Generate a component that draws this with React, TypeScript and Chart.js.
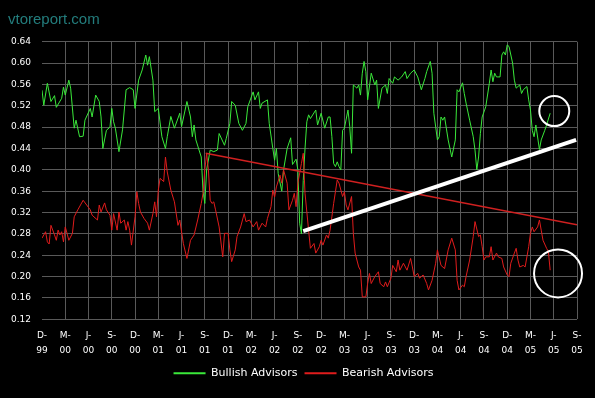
import { useEffect, useRef } from "react";
import { Chart, registerables } from "chart.js";

Chart.register(...registerables);

// Quarter tick labels (Dec 1999 .. Sep 2005)
const quarterMonths = ["D-", "M-", "J-", "S-", "D-", "M-", "J-", "S-", "D-", "M-", "J-", "S-", "D-", "M-", "J-", "S-", "D-", "M-", "J-", "S-", "D-", "M-", "J-", "S-"];
const quarterYears = ["99", "00", "00", "00", "00", "01", "01", "01", "01", "02", "02", "02", "02", "03", "03", "03", "03", "04", "04", "04", "04", "05", "05", "05"];
const weeksPerQuarter = 13;

// Bullish advisors: week number since Dec 1999, value
const bullWeeks = [0, 1, 3, 5, 7, 8, 11, 12, 13, 15, 16, 18, 19, 21, 23, 24, 27, 28, 30, 32, 33, 34, 36, 38, 39, 40, 41, 43, 45, 47, 49, 51, 52, 54, 56, 58, 59, 60, 62, 63, 65, 67, 69, 70, 72, 74, 77, 78, 81, 83, 84, 85, 86, 89, 90, 91, 92, 94, 96, 98, 99, 102, 103, 105, 106, 108, 110, 112, 114, 115, 118, 119, 121, 122, 123, 126, 127, 129, 130, 131, 132, 134, 135, 137, 139, 140, 142, 143, 144, 145, 146, 147, 148, 149, 150, 153, 154, 156, 158, 160, 161, 162, 163, 164, 165, 166, 167, 168, 169, 171, 172, 173, 174, 176, 177, 178, 179, 180, 181, 182, 184, 186, 187, 188, 190, 192, 193, 194, 196, 197, 199, 201, 203, 204, 206, 208, 210, 212, 214, 215, 217, 218, 219, 221, 222, 223, 224, 225, 227, 229, 231, 232, 233, 235, 236, 237, 239, 241, 242, 243, 244, 245, 246, 248, 250, 251, 252, 253, 254, 256, 257, 258, 259, 260, 261, 263, 264, 265, 267, 268, 269, 271, 272, 273, 274, 275, 276, 278, 279, 281, 282, 284];
const bullValues = [0.549, 0.521, 0.562, 0.528, 0.539, 0.517, 0.534, 0.555, 0.54, 0.568, 0.553, 0.478, 0.493, 0.462, 0.463, 0.493, 0.515, 0.499, 0.54, 0.528, 0.499, 0.44, 0.474, 0.48, 0.515, 0.49, 0.478, 0.434, 0.475, 0.55, 0.554, 0.55, 0.515, 0.568, 0.587, 0.615, 0.596, 0.612, 0.568, 0.509, 0.515, 0.462, 0.44, 0.462, 0.5, 0.478, 0.506, 0.481, 0.528, 0.499, 0.462, 0.484, 0.456, 0.424, 0.36, 0.337, 0.4, 0.437, 0.434, 0.437, 0.468, 0.446, 0.459, 0.487, 0.528, 0.521, 0.487, 0.474, 0.487, 0.518, 0.546, 0.531, 0.546, 0.515, 0.525, 0.531, 0.487, 0.44, 0.418, 0.44, 0.393, 0.36, 0.4, 0.44, 0.46, 0.41, 0.42, 0.4, 0.3, 0.28, 0.38, 0.44, 0.49, 0.503, 0.496, 0.512, 0.484, 0.506, 0.478, 0.499, 0.499, 0.462, 0.412, 0.406, 0.415, 0.406, 0.4, 0.474, 0.478, 0.512, 0.481, 0.431, 0.559, 0.553, 0.559, 0.54, 0.581, 0.603, 0.584, 0.531, 0.581, 0.559, 0.568, 0.515, 0.553, 0.559, 0.543, 0.571, 0.562, 0.574, 0.568, 0.574, 0.584, 0.571, 0.581, 0.587, 0.574, 0.55, 0.571, 0.584, 0.603, 0.581, 0.506, 0.456, 0.462, 0.499, 0.493, 0.499, 0.456, 0.424, 0.456, 0.55, 0.546, 0.563, 0.543, 0.525, 0.493, 0.462, 0.437, 0.4, 0.424, 0.468, 0.499, 0.518, 0.562, 0.587, 0.565, 0.581, 0.574, 0.574, 0.615, 0.621, 0.615, 0.634, 0.631, 0.6, 0.568, 0.553, 0.559, 0.543, 0.55, 0.556, 0.531, 0.512, 0.474, 0.462, 0.484, 0.438, 0.456, 0.474, 0.484, 0.506];

// Bearish advisors
const bearWeeks = [0, 2, 3, 4, 5, 7, 8, 9, 10, 11, 12, 13, 14, 15, 17, 18, 20, 23, 25, 27, 28, 31, 32, 33, 35, 36, 38, 39, 40, 42, 43, 44, 46, 47, 48, 49, 50, 52, 53, 54, 55, 57, 59, 60, 62, 63, 64, 65, 66, 68, 69, 70, 72, 74, 76, 77, 79, 81, 83, 85, 87, 89, 90, 91, 92, 93, 94, 95, 96, 97, 99, 101, 102, 104, 105, 106, 108, 109, 111, 113, 114, 116, 118, 120, 121, 123, 125, 126, 128, 129, 130, 131, 133, 134, 135, 137, 138, 140, 141, 142, 143, 145, 146, 147, 149, 150, 152, 153, 155, 156, 157, 159, 160, 161, 162, 163, 165, 166, 168, 169, 170, 171, 173, 174, 175, 177, 178, 179, 181, 182, 183, 184, 186, 188, 189, 191, 192, 193, 195, 196, 198, 199, 200, 202, 204, 206, 207, 208, 210, 211, 213, 215, 216, 218, 220, 221, 223, 225, 227, 229, 231, 232, 233, 235, 236, 237, 239, 241, 242, 244, 245, 246, 247, 248, 250, 251, 252, 254, 255, 257, 258, 260, 261, 262, 264, 265, 266, 267, 269, 270, 272, 273, 274, 275, 277, 278, 279, 280, 282, 283, 284];
const bearValues = [0.272, 0.284, 0.265, 0.261, 0.296, 0.278, 0.268, 0.287, 0.278, 0.284, 0.265, 0.293, 0.281, 0.268, 0.281, 0.312, 0.325, 0.343, 0.334, 0.325, 0.315, 0.306, 0.334, 0.321, 0.338, 0.325, 0.315, 0.287, 0.318, 0.287, 0.321, 0.3, 0.306, 0.287, 0.303, 0.287, 0.259, 0.312, 0.359, 0.337, 0.321, 0.309, 0.3, 0.287, 0.318, 0.34, 0.312, 0.362, 0.384, 0.378, 0.424, 0.396, 0.362, 0.34, 0.296, 0.306, 0.262, 0.234, 0.268, 0.278, 0.306, 0.337, 0.356, 0.4, 0.431, 0.4, 0.343, 0.337, 0.34, 0.325, 0.293, 0.237, 0.281, 0.281, 0.25, 0.228, 0.25, 0.275, 0.293, 0.318, 0.303, 0.306, 0.293, 0.303, 0.287, 0.3, 0.293, 0.309, 0.331, 0.362, 0.349, 0.368, 0.39, 0.375, 0.4, 0.375, 0.325, 0.343, 0.356, 0.331, 0.375, 0.412, 0.431, 0.356, 0.287, 0.253, 0.262, 0.244, 0.256, 0.268, 0.259, 0.278, 0.272, 0.287, 0.312, 0.337, 0.381, 0.375, 0.35, 0.359, 0.334, 0.325, 0.35, 0.281, 0.244, 0.218, 0.212, 0.162, 0.162, 0.187, 0.206, 0.187, 0.2, 0.209, 0.187, 0.181, 0.19, 0.181, 0.197, 0.221, 0.209, 0.231, 0.212, 0.225, 0.212, 0.234, 0.218, 0.2, 0.206, 0.197, 0.203, 0.187, 0.175, 0.193, 0.225, 0.25, 0.221, 0.215, 0.25, 0.272, 0.25, 0.193, 0.175, 0.184, 0.181, 0.2, 0.231, 0.275, 0.303, 0.275, 0.278, 0.256, 0.231, 0.237, 0.237, 0.256, 0.231, 0.244, 0.237, 0.234, 0.218, 0.203, 0.2, 0.225, 0.244, 0.253, 0.231, 0.218, 0.221, 0.218, 0.256, 0.281, 0.293, 0.284, 0.293, 0.306, 0.287, 0.268, 0.253, 0.247, 0.212];

// Hand-drawn annotations (in data coordinates)
const bullTrendWeeks = [146, 298.5];
const bullTrendValues = [0.285, 0.456];
const bearTrendWeeks = [91.5, 299];
const bearTrendValues = [0.431, 0.297];
const circleWeeks = [286.3, 288.4];
const circleValues = [0.51, 0.206];

const yMin = 0.12;
const yMax = 0.64;
const yStep = 0.04;

const GREEN = "#3ae83a";
const RED = "#e01c1c";
const GRID = "#595959";

const zip = (xs: number[], ys: number[]) => xs.map((x, i) => ({ x, y: ys[i] }));

const legendShift = {
  id: "legendShift",
  afterLayout(chart: any) {
    if (chart.legend) {
      chart.legend.left += 11;
      chart.legend.right += 11;
    }
  },
};

export default function App() {
  const ref = useRef<HTMLCanvasElement>(null);

  useEffect(() => {
    if (!ref.current) return;
    const chart = new Chart(ref.current, {
      type: "scatter",
      plugins: [legendShift],
      data: {
        datasets: [
          {
            label: "Bullish Advisors",
            data: zip(bullWeeks, bullValues),
            showLine: true,
            borderColor: GREEN,
            backgroundColor: GREEN,
            borderWidth: 1,
            pointRadius: 0,
            order: 5,
          },
          {
            label: "Bearish Advisors",
            data: zip(bearWeeks, bearValues),
            showLine: true,
            borderColor: RED,
            backgroundColor: RED,
            borderWidth: 1,
            pointRadius: 0,
            order: 4,
          },
          {
            label: "bearTrend",
            data: zip(bearTrendWeeks, bearTrendValues),
            showLine: true,
            borderColor: "#d02020",
            backgroundColor: "#d02020",
            borderWidth: 1.5,
            pointRadius: 0,
            order: 3,
          },
          {
            label: "bullTrend",
            data: zip(bullTrendWeeks, bullTrendValues),
            showLine: true,
            borderColor: "#ffffff",
            backgroundColor: "#ffffff",
            borderWidth: 4,
            pointRadius: 0,
            order: 2,
          },
          {
            label: "circles",
            data: zip(circleWeeks, circleValues),
            showLine: false,
            clip: false,
            pointRadius: [15, 24],
            pointBorderColor: "#ffffff",
            pointBorderWidth: 2,
            pointBackgroundColor: "rgba(0,0,0,0)",
            order: 1,
          },
        ],
      },
      options: {
        responsive: false,
        animation: false,
        events: [],
        layout: { autoPadding: false, padding: { left: 8, right: 18, top: 0, bottom: 9.2 } },
        scales: {
          x: {
            type: "linear",
            min: 0,
            max: (quarterMonths.length - 1) * weeksPerQuarter,
            ticks: {
              stepSize: weeksPerQuarter,
              autoSkip: false,
              maxRotation: 0,
              color: "#ffffff",
              padding: 8,
              font: { family: "DejaVu Sans", size: 9, lineHeight: 1.75 },
              callback: (v: any) => {
                const i = Math.round(Number(v) / weeksPerQuarter);
                return [quarterMonths[i], quarterYears[i]];
              },
            },
            grid: {
              color: (c: any) => (c.index === 0 ? "rgba(0,0,0,0)" : GRID),
              drawTicks: false,
              lineWidth: 1,
            },
            border: { display: false },
            afterFit: (s: any) => {
              s.height = 41.5;
              s.paddingLeft = 0;
              s.paddingRight = 0;
            },
          },
          y: {
            min: yMin,
            max: yMax,
            ticks: {
              stepSize: yStep,
              color: "#ffffff",
              padding: 11,
              font: { family: "DejaVu Sans", size: 9 },
              callback: (v: any) => Number(v).toFixed(2),
            },
            grid: { color: GRID, drawTicks: false, lineWidth: 1 },
            border: { display: false },
            afterFit: (s: any) => {
              s.width = 34;
            },
          },
        },
        plugins: {
          title: {
            display: true,
            text: "vtoreport.com",
            align: "start",
            color: "#237d7d",
            font: { family: "Liberation Sans", size: 15, weight: "normal", lineHeight: 1.2 },
            padding: { top: 11, bottom: 12.7 },
          },
          legend: {
            position: "bottom",
            labels: {
              color: "#ffffff",
              font: { family: "DejaVu Sans", size: 11 },
              boxWidth: 32,
              boxHeight: 2,
              padding: 7,
              sort: (a: any, b: any) => a.datasetIndex - b.datasetIndex,
              generateLabels: (c: any) =>
                Chart.defaults.plugins.legend.labels
                  .generateLabels(c)
                  .filter((l: any) => l.datasetIndex < 2)
                  .map((l: any) => ({ ...l, lineWidth: 0 })),
            },
          },
          tooltip: { enabled: false },
        },
      },
    });
    return () => chart.destroy();
  }, []);

  return (
    <div style={{ position: "fixed", left: 0, top: 0, width: 595, height: 398, background: "#000" }}>
      <canvas ref={ref} width={595} height={398} style={{ display: "block" }} />
    </div>
  );
}
